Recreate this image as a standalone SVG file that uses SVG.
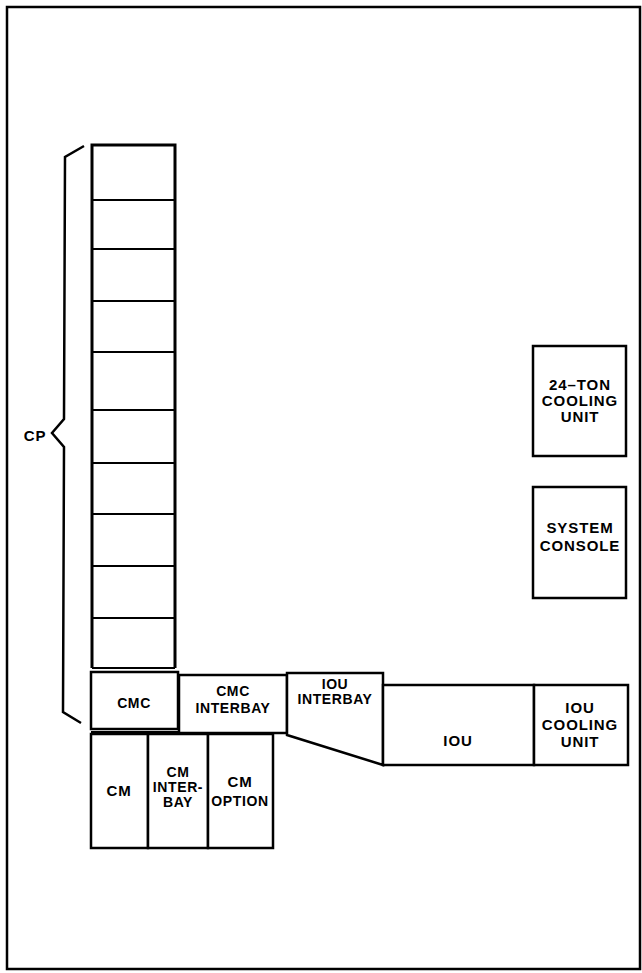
<svg xmlns="http://www.w3.org/2000/svg" width="642" height="973" viewBox="0 0 642 973">
<style>
.f{fill:none;stroke:#000;stroke-linejoin:miter}
.b{fill:#fff;stroke:#000;stroke-width:2.5}
.d{stroke:#000;stroke-width:2}
.t{font-family:"Liberation Sans",Arial,sans-serif;font-weight:bold;font-size:14px;letter-spacing:0.6px;text-anchor:middle;fill:#000}
.l{font-size:15px;letter-spacing:0.9px}
</style>
<rect width="642" height="973" fill="#fff"/>
<rect x="7" y="7" width="633" height="962" class="f" stroke-width="2.5"/>
<g id="connectors">
<path class="f" stroke-width="2.5" d="M84,146 L65,157 L64,419 L52,433 L64,447 L63,712 L81,723"/>
</g>
<g id="cp">
<path class="f" stroke-width="3" d="M92,668 L92,145 L175,145 L175,668"/>
<line class="d" x1="92" y1="200" x2="175" y2="200"/>
<line class="d" x1="92" y1="249" x2="175" y2="249"/>
<line class="d" x1="92" y1="301" x2="175" y2="301"/>
<line class="d" x1="92" y1="352" x2="175" y2="352"/>
<line class="d" x1="92" y1="410" x2="175" y2="410"/>
<line class="d" x1="92" y1="463" x2="175" y2="463"/>
<line class="d" x1="92" y1="514" x2="175" y2="514"/>
<line class="d" x1="92" y1="566" x2="175" y2="566"/>
<line class="d" x1="92" y1="618" x2="175" y2="618"/>
<line class="d" x1="92" y1="668" x2="175" y2="668"/>
<text class="t l" x="35" y="441">CP</text>
</g>
<g id="cmc">
<rect class="b" x="91" y="672" width="87" height="57"/>
<line class="d" x1="91" y1="732" x2="178" y2="732"/>
<text class="t" x="134" y="708" font-size="14.5">CMC</text>
</g>
<g id="cmc-interbay">
<rect class="b" x="179" y="675" width="108" height="58"/>
<text class="t" x="233" y="696" font-size="13">CMC</text>
<text class="t" x="233" y="713" font-size="13.5">INTERBAY</text>
</g>
<g id="iou-interbay">
<path class="b" d="M287,673 L383,673 L383,765 L287,735 Z"/>
<text class="t" x="335" y="689" font-size="12">IOU</text>
<text class="t" x="335" y="704" font-size="12.5">INTERBAY</text>
</g>
<g id="iou">
<rect class="b" x="383" y="685" width="151" height="80"/>
<text class="t l" x="458" y="746">IOU</text>
</g>
<g id="iou-cooling">
<rect class="b" x="534" y="685" width="94" height="80"/>
<text class="t l" x="580" y="713">IOU</text>
<text class="t l" x="580" y="730">COOLING</text>
<text class="t l" x="580" y="747">UNIT</text>
</g>
<g id="cm">
<rect class="b" x="91" y="734" width="57" height="114"/>
<text class="t l" x="119" y="796">CM</text>
</g>
<g id="cm-interbay">
<rect class="b" x="148" y="734" width="60" height="114"/>
<text class="t" x="178" y="777" font-size="13">CM</text>
<text class="t" x="178" y="792" font-size="13" letter-spacing="0.3">INTER-</text>
<text class="t" x="178" y="807" font-size="13">BAY</text>
</g>
<g id="cm-option">
<rect class="b" x="208" y="734" width="65" height="114"/>
<text class="t l" x="240" y="787">CM</text>
<text class="t" x="240" y="806" font-size="14.5" letter-spacing="0">OPTION</text>
</g>
<g id="cooling-24ton">
<rect class="b" x="533" y="346" width="93" height="110"/>
<text class="t l" x="580" y="390">24–TON</text>
<text class="t l" x="580" y="406">COOLING</text>
<text class="t l" x="580" y="422">UNIT</text>
</g>
<g id="system-console">
<rect class="b" x="533" y="487" width="93" height="111"/>
<text class="t l" x="580" y="533">SYSTEM</text>
<text class="t l" x="580" y="551">CONSOLE</text>
</g>
</svg>
